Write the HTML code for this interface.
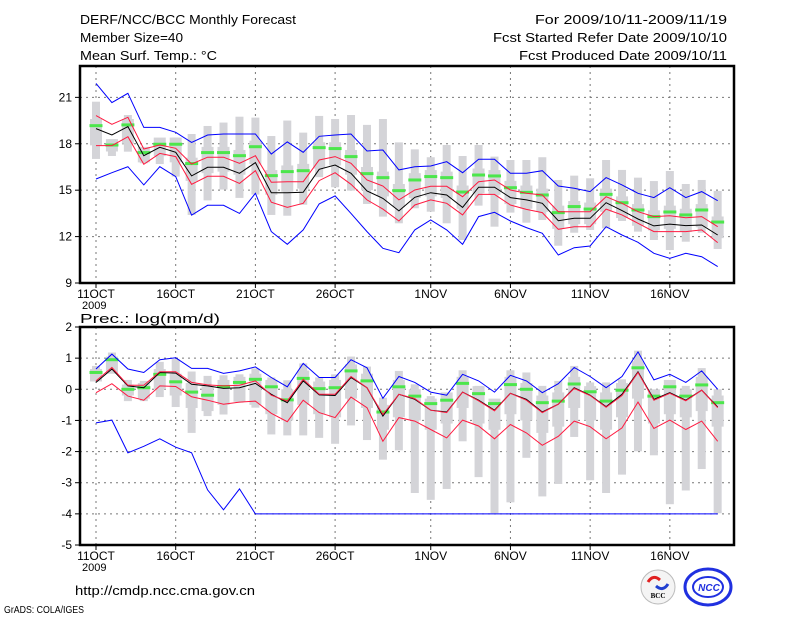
<!DOCTYPE html>
<html><head><meta charset="utf-8"><style>
html,body{margin:0;padding:0;background:#fff;}
svg{display:block;font-family:"Liberation Sans",sans-serif;}
</style></head><body>
<svg id="chart" width="800" height="618" viewBox="0 0 800 618" xmlns="http://www.w3.org/2000/svg">
<rect x="0" y="0" width="800" height="618" fill="#fff"/>
<g font-size="13" fill="#000">
<text x="80" y="24" textLength="216" lengthAdjust="spacingAndGlyphs">DERF/NCC/BCC Monthly Forecast</text>
<text x="80" y="42" textLength="103" lengthAdjust="spacingAndGlyphs">Member Size=40</text>
<text x="80" y="60" textLength="137" lengthAdjust="spacingAndGlyphs">Mean Surf. Temp.: °C</text>
<text x="535" y="24" textLength="192" lengthAdjust="spacingAndGlyphs">For 2009/10/11-2009/11/19</text>
<text x="493" y="42" textLength="234" lengthAdjust="spacingAndGlyphs">Fcst Started Refer Date 2009/10/10</text>
<text x="519" y="60" textLength="208" lengthAdjust="spacingAndGlyphs">Fcst Produced Date 2009/10/11</text>
<text x="80" y="323" textLength="140" lengthAdjust="spacingAndGlyphs">Prec.: log(mm/d)</text>
<text x="75" y="595" textLength="180" lengthAdjust="spacingAndGlyphs">http://cmdp.ncc.cma.gov.cn</text>
<text x="4" y="613" font-size="10" textLength="80" lengthAdjust="spacingAndGlyphs">GrADS: COLA/IGES</text>
</g>
<g>
<circle cx="658" cy="587" r="17" fill="#f4f4f4" stroke="#bbb"/>
<path d="M648 582 q5 -8 12 -2" stroke="#e02020" stroke-width="3" fill="none"/>
<path d="M668 584 q-5 8 -12 2" stroke="#2040d0" stroke-width="3" fill="none"/>
<text x="658" y="598" font-size="7" text-anchor="middle" font-family="Liberation Serif,serif" font-weight="bold">BCC</text>
</g>
<g>
<ellipse cx="708" cy="587" rx="23" ry="18" fill="none" stroke="#2030e0" stroke-width="3"/>
<ellipse cx="708" cy="587" rx="15" ry="10" fill="none" stroke="#2030e0" stroke-width="2"/>
<text x="709" y="591" font-size="10" text-anchor="middle" fill="#2030e0" font-style="italic" font-weight="bold">NCC</text>
</g>
<g id="top"></g>
<g id="bot"></g>
</svg>
<script>
const dayLabels=["11OCT","16OCT","21OCT","26OCT","1NOV","6NOV","11NOV","16NOV"];
const dayLabelIdx=[0,5,10,15,21,26,31,36];
// Temperature (°C)
const tBlueHi=[21.9,20.66,21.26,19.06,19.06,18.74,18.09,18.57,18.63,18.63,18.63,17.34,18.12,17.45,18.48,18.57,18.63,17.53,17.6,16.31,16.52,16.56,16.84,16.13,17.0,17.0,16.09,16.09,16.26,15.27,15.12,14.91,15.81,15.34,14.8,14.52,15.16,14.52,14.91,14.32];
const tRedHi=[19.82,19.26,19.71,17.66,17.92,17.71,16.69,17.13,17.13,16.74,17.23,15.51,15.55,15.55,16.95,17.17,16.74,15.66,15.27,14.37,15.01,15.25,15.25,14.58,15.55,15.66,15.01,14.8,14.69,13.61,13.61,13.61,14.58,14.15,13.61,13.29,13.35,13.22,13.29,12.64];
const tMean=[18.98,18.57,19.11,17.23,17.77,17.45,15.92,16.48,16.48,16.09,16.78,14.84,14.84,14.86,16.35,16.63,16.09,14.95,14.47,13.66,14.54,14.84,14.69,13.89,15.19,15.19,14.52,14.37,14.15,13.03,13.18,13.18,14.19,13.68,13.14,12.69,12.81,12.71,12.75,12.10];
const tRedLo=[17.88,17.88,18.46,16.67,17.38,17.17,15.38,15.90,15.90,15.44,16.26,14.22,13.89,14.15,15.62,16.13,15.38,14.37,13.78,13.01,14.04,14.37,14.15,13.40,14.73,14.73,14.04,13.76,13.55,12.47,12.64,12.64,13.78,13.40,12.86,12.32,12.32,12.32,12.43,11.61];
const tBlueLo=[15.72,16.13,16.52,15.34,16.52,15.88,13.38,14.02,14.02,13.5,14.8,12.32,11.5,12.43,14.11,14.63,13.5,12.32,11.24,10.96,12.43,13.07,12.43,11.5,13.29,13.57,13.01,12.58,12.21,10.81,11.28,11.39,12.64,12.10,11.63,10.92,10.59,10.92,10.7,10.06];
const tGreen=[19.17,17.92,19.22,17.43,17.97,17.97,16.72,17.43,17.43,17.23,17.81,15.94,16.2,16.26,17.75,17.69,17.17,16.07,15.81,14.97,15.66,15.88,15.81,14.88,15.98,15.92,15.16,14.86,14.69,13.55,13.94,13.78,14.73,14.19,13.72,13.29,13.59,13.4,13.72,12.94];
const tMax=[20.72,18.29,19.86,17.71,18.29,18.40,18.63,19.15,19.37,19.75,19.69,18.5,19.5,18.72,19.80,19.60,19.86,19.22,19.60,18.09,17.64,17.13,17.92,17.21,17.92,17.17,16.95,16.95,17.13,15.66,15.94,15.77,16.95,16.31,15.81,15.59,16.24,15.40,15.66,14.95];
const tMin=[17.02,17.21,17.49,16.74,16.69,15.88,13.40,14.34,15.04,14.50,14.72,13.40,13.35,14.06,15.84,15.19,14.97,14.11,13.29,12.86,13.83,13.61,12.86,11.78,14.0,12.64,13.55,12.90,13.07,11.41,12.25,12.43,12.53,13.01,12.32,11.78,11.13,11.67,12.25,11.20];
const tQ3=[19.6,18.3,19.6,17.8,18.4,18.4,17.1,17.8,17.8,17.6,18.2,16.3,16.6,16.7,18.1,18.1,17.6,16.5,16.2,15.4,16.1,16.3,16.2,15.3,16.4,16.3,15.6,15.3,15.1,14.0,14.3,14.2,15.1,14.6,14.1,13.7,14.0,13.8,14.1,13.3];
const tQ1=[17.9,17.5,18.0,16.8,17.2,16.8,15.6,16.1,16.2,16.0,16.7,14.7,14.9,15.1,16.4,16.6,16.0,15.0,14.6,13.9,14.5,14.6,14.5,13.8,14.8,14.7,14.1,13.8,13.6,12.5,12.8,12.8,13.6,13.2,12.7,12.4,12.5,12.3,12.6,11.9];
const tTicks=[9,12,15,18,21];
// Precipitation log(mm/d)
const pBlueHi=[0.65,1.13,0.65,0.54,0.95,1.01,0.67,0.67,0.51,0.59,0.72,0.38,0.08,0.83,0.38,0.38,0.95,0.69,-0.29,0.41,0.22,-0.09,-0.19,0.48,0.27,-0.09,0.45,0.27,-0.11,0.18,0.70,0.41,0.05,0.41,1.20,0.30,0.48,0.22,0.59,0.0];
const pRedHi=[0.27,0.70,0.13,0.13,0.56,0.56,0.22,0.14,0.11,0.13,0.27,-0.19,-0.38,0.32,-0.16,-0.16,0.41,0.05,-0.81,-0.16,-0.30,-0.67,-0.75,-0.09,-0.37,-0.69,-0.13,-0.35,-0.75,-0.48,0.03,-0.20,-0.58,-0.20,0.54,-0.35,-0.13,-0.37,-0.03,-0.59];
const pMean=[0.22,0.65,0.11,0.05,0.54,0.52,0.16,0.11,0.03,0.05,0.19,-0.16,-0.43,0.27,-0.18,-0.20,0.38,0.05,-0.86,-0.16,-0.32,-0.67,-0.73,-0.09,-0.35,-0.67,-0.13,-0.32,-0.73,-0.48,0.05,-0.19,-0.56,-0.16,0.56,-0.32,-0.11,-0.35,-0.03,-0.57];
const pRedLo=[-0.11,0.18,-0.22,-0.35,0.11,0.09,-0.24,-0.35,-0.48,-0.41,-0.38,-0.77,-1.04,-0.35,-0.75,-0.91,-0.25,-0.59,-1.67,-0.91,-1.02,-1.29,-1.56,-0.99,-1.18,-1.59,-1.13,-1.40,-1.80,-1.51,-1.02,-1.20,-1.59,-1.24,-0.41,-1.26,-0.99,-1.29,-1.02,-1.67];
const pBlueLo=[-1.08,-0.99,-2.04,-1.83,-1.59,-1.86,-2.04,-3.23,-3.87,-3.20,-4.0,-4.0,-4.0,-4.0,-4.0,-4.0,-4.0,-4.0,-4.0,-4.0,-4.0,-4.0,-4.0,-4.0,-4.0,-4.0,-4.0,-4.0,-4.0,-4.0,-4.0,-4.0,-4.0,-4.0,-4.0,-4.0,-4.0,-4.0,-4.0,-4.0];
const pGreen=[0.54,0.95,0,0.05,0.48,0.24,-0.09,-0.19,0.09,0.22,0.32,0.08,-0.34,0.35,0.02,0.05,0.59,0.27,-0.73,0.08,-0.22,-0.46,-0.35,0.19,-0.14,-0.46,0.15,0,-0.43,-0.38,0.17,-0.08,-0.38,-0.03,0.69,-0.22,0.08,-0.22,0.14,-0.43];
const pMax=[0.75,1.18,0.30,0.27,0.88,0.97,0.57,0.43,0.45,0.48,0.67,0.38,0.29,0.83,0.38,0.48,1.05,0.73,-0.27,0.59,0.16,-0.22,-0.27,0.61,0.11,-0.32,0.61,0.54,0.11,0.27,0.75,0.22,0.22,0.32,1.24,-0.16,0.29,0.11,0.68,0];
const pMin=[0.32,0.75,-0.38,-0.38,-0.25,-0.57,-1.40,-0.86,-0.81,-0.43,-0.59,-1.45,-1.48,-1.48,-1.56,-1.75,-1.16,-1.63,-2.26,-1.96,-3.33,-3.55,-3.20,-1.67,-2.82,-3.98,-3.63,-2.20,-3.44,-3.04,-1.53,-2.92,-3.33,-2.74,-1.99,-2.12,-3.69,-3.25,-2.56,-3.98];
const pQ3=[0.65,1.05,0.15,0.2,0.65,0.5,0.2,0.1,0.3,0.4,0.5,0.3,0.0,0.6,0.25,0.3,0.8,0.5,-0.5,0.3,0.0,-0.3,-0.1,0.4,0.1,-0.3,0.4,0.2,-0.2,-0.1,0.4,0.1,-0.1,0.2,0.9,0.0,0.3,0.0,0.4,-0.2];
const pQ1=[0.25,0.5,-0.2,-0.3,0.0,-0.2,-0.6,-0.7,-0.5,-0.4,-0.5,-0.8,-1.0,-0.5,-0.8,-0.9,-0.3,-0.6,-1.3,-0.9,-1.0,-1.3,-1.1,-0.6,-1.1,-1.3,-0.8,-1.0,-1.4,-1.2,-0.6,-1.0,-1.3,-0.9,-0.3,-1.1,-0.8,-0.9,-0.7,-1.2];
const pTicks=[-5,-4,-3,-2,-1,0,1,2];

const NS="http://www.w3.org/2000/svg";
const X0=80,X1=734;
function xs(i){return 96+i*15.94;}
function mk(parent,tag,attrs){const e=document.createElementNS(NS,tag);for(const k in attrs)e.setAttribute(k,attrs[k]);parent.appendChild(e);return e;}

function panel(g,top,bot,vmin,vmax,ticks,d,prefix,labelY){
  const ys=v=>bot-(v-vmin)/(vmax-vmin)*(bot-top);
  // grid
  dayLabelIdx.forEach(i=>{
    const l=mk(g,'line',{x1:xs(i),x2:xs(i),y1:top,y2:bot,stroke:'#777','stroke-dasharray':'2,4','stroke-width':1});
    
    
  });
  ticks.forEach(t=>{
    if(t>vmin&&t<vmax){const l=mk(g,'line',{x1:X0,x2:X1,y1:ys(t),y2:ys(t),stroke:'#777','stroke-dasharray':'2,4','stroke-width':1});
    
    }
    const tk=mk(g,'line',{x1:X0-5,x2:X0,y1:ys(t),y2:ys(t),stroke:'#000'});
    
    
    const tx=mk(g,'text',{x:X0-8,y:ys(t)+4,'text-anchor':'end','font-size':12});
    
    
    tx.textContent=String(t);
  });
  // boxes
  for(let i=0;i<40;i++){
    const x=xs(i);
    const r1=mk(g,'rect',{x:x-4,y:ys(d.max[i]),width:8,height:Math.max(1,ys(d.min[i])-ys(d.max[i])),fill:'#d4d4d8'});
    
    
    const r2=mk(g,'rect',{x:x-6,y:ys(d.q3[i]),width:12,height:Math.max(1,ys(d.q1[i])-ys(d.q3[i])),fill:'#d4d4d8'});
    
    
  }
  for(let i=0;i<40;i++){
    const gm=mk(g,'rect',{x:xs(i)-6.5,y:ys(d.green[i])-1.5,width:13,height:3,fill:'#4ce64c'});
    
    
  }
  const series=[[d.blueHi,'#0000ff','upper-bound-line'],[d.blueLo,'#0000ff','lower-bound-line'],[d.redLo,'#ff1a40','lower-spread-line'],[d.mean,'#000','ensemble-mean-line'],[d.redHi,'#ff1a40','upper-spread-line']];
  series.forEach(s=>{
    const p=mk(g,'polyline',{points:s[0].map((v,i)=>xs(i).toFixed(1)+','+ys(v).toFixed(1)).join(' '),fill:'none',stroke:s[1],'stroke-width':1});
    
    
  });
  const fr=mk(g,'rect',{x:X0,y:top,width:X1-X0,height:bot-top,fill:'none',stroke:'#000','stroke-width':2.5});
  
  
  dayLabelIdx.forEach((i,k)=>{
    const tk=mk(g,'line',{x1:xs(i),x2:xs(i),y1:bot,y2:bot+5,stroke:'#000'});
    
    
    const t=mk(g,'text',{x:xs(i),y:labelY,'text-anchor':'middle','font-size':12});
    
    
    t.textContent=dayLabels[k];
  });
  const yr=mk(g,'text',{x:82,y:labelY+11,'font-size':11});
  
  
  yr.textContent='2009';
}
panel(document.getElementById('top'),66,283,9,21+ (283-66)/15.47-12,tTicks,
 {blueHi:tBlueHi,redHi:tRedHi,mean:tMean,redLo:tRedLo,blueLo:tBlueLo,green:tGreen,max:tMax,min:tMin,q3:tQ3,q1:tQ1},'temp',298);
panel(document.getElementById('bot'),327,545,-5,2,pTicks,
 {blueHi:pBlueHi,redHi:pRedHi,mean:pMean,redLo:pRedLo,blueLo:pBlueLo,green:pGreen,max:pMax,min:pMin,q3:pQ3,q1:pQ1},'prec',560);
</script>
</body></html>
